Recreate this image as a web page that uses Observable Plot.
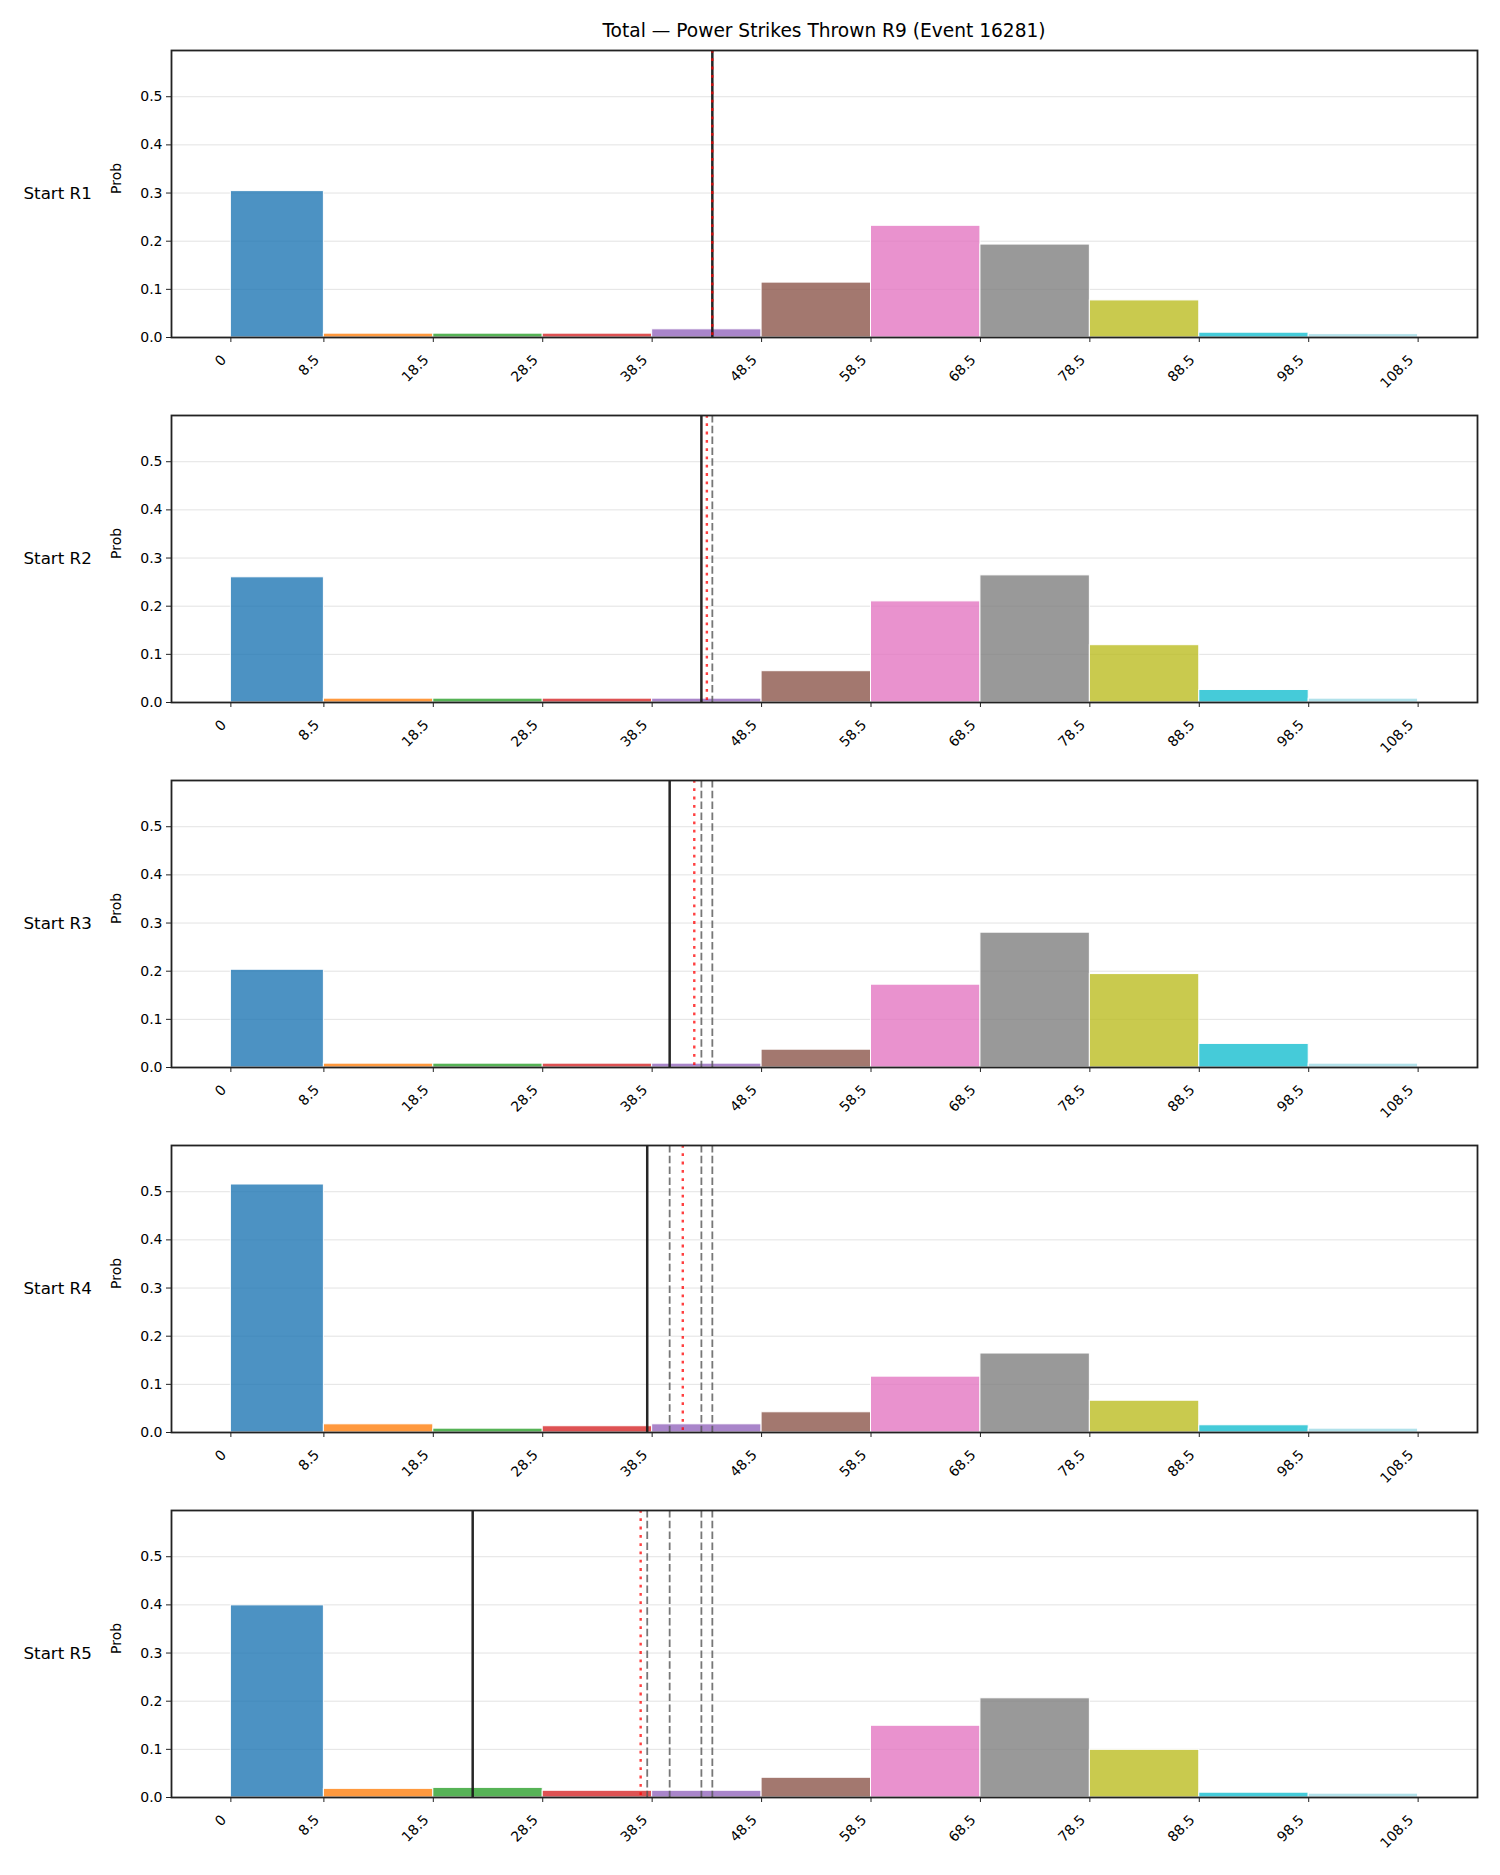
<!DOCTYPE html>
<html>
<head>
<meta charset="utf-8">
<script src="https://cdn.jsdelivr.net/npm/d3@7"></script>
<script src="https://cdn.jsdelivr.net/npm/@observablehq/plot@0.6"></script>
<style>
  body { margin: 0; background: #fff; }
  #chart { width: 1500px; font-family: "DejaVu Sans", sans-serif; }
  #title { height: 40px; box-sizing: border-box; padding: 21px 23px 0 171px; line-height: 20px;
           font-size: 18.6px; text-align: center; color: #000; white-space: nowrap; }
  #chart svg { display: block; }
</style>
</head>
<body>
<div id="chart"><div id="title">Total — Power Strikes Thrown R9 (Event 16281)</div></div>
<script>
// ---- data ----
const binEdges = [0, 8.5, 18.5, 28.5, 38.5, 48.5, 58.5, 68.5, 78.5, 88.5, 98.5, 108.5];
const xTickLabels = ["0", "8.5", "18.5", "28.5", "38.5", "48.5", "58.5", "68.5", "78.5", "88.5", "98.5", "108.5"];
const yTicks = [0, 0.1, 0.2, 0.3, 0.4, 0.5];
const roundLabels = ["Start R1", "Start R2", "Start R3", "Start R4", "Start R5"];

const probR1 = [0.304, 0.008, 0.008, 0.008, 0.017, 0.114, 0.232, 0.193, 0.077, 0.010, 0.007];
const probR2 = [0.260, 0.008, 0.008, 0.008, 0.008, 0.065, 0.210, 0.264, 0.119, 0.026, 0.008];
const probR3 = [0.203, 0.008, 0.008, 0.008, 0.008, 0.037, 0.172, 0.280, 0.194, 0.049, 0.008];
const probR4 = [0.515, 0.017, 0.008, 0.013, 0.017, 0.042, 0.116, 0.164, 0.066, 0.015, 0.008];
const probR5 = [0.399, 0.018, 0.020, 0.014, 0.014, 0.041, 0.149, 0.206, 0.099, 0.010, 0.008];
const probs = [probR1, probR2, probR3, probR4, probR5];

const lineValues = [44.0, 43.0, 40.1, 38.05, 22.1];     // black solid line per round
const centerValues = [44.0, 43.5, 42.35, 41.3, 37.45];  // red dotted line per round

// ---- styles ----
const palette = ["#1f77b4", "#ff7f0e", "#2ca02c", "#d62728", "#9467bd", "#8c564b",
                 "#e377c2", "#7f7f7f", "#bcbd22", "#17becf", "#9edae5"];
const tickLabelMap = new Map(binEdges.map((e, i) => [e, xTickLabels[i]]));
const binIndex = d3.range(binEdges.length - 1);

const chart = document.getElementById("chart");

roundLabels.forEach((label, r) => {
  const rows = binIndex.map(i => ({bin: i, x1: binEdges[i], x2: binEdges[i + 1], p: probs[r][i]}));
  const previous = lineValues.slice(0, r);
  const svg = Plot.plot({
    width: 1500,
    height: 365,
    marginLeft: 171,
    marginRight: 23,
    marginTop: 10,
    marginBottom: 68,
    x: {domain: [-5.425, 113.925]},
    y: {domain: [0, 0.596]},
    color: {domain: binIndex, range: palette},
    style: {fontFamily: "DejaVu Sans", fontSize: "14px", color: "#000", background: "#fff", overflow: "visible"},
    marks: [
      Plot.gridY(yTicks.slice(1), {stroke: "#e3e3e3", strokeOpacity: 1, strokeWidth: 1}),
      Plot.rect(rows, {x1: "x1", x2: "x2", y1: 0, y2: "p", fill: "bin", fillOpacity: 0.8, stroke: "#fff", strokeWidth: 1}),
      Plot.ruleX(previous, {stroke: "#555", strokeOpacity: 0.8, strokeWidth: 1.8, strokeDasharray: "7.5,3.3"}),
      Plot.ruleX([lineValues[r]], {stroke: "#1a1a1a", strokeOpacity: 0.95, strokeWidth: 2.5}),
      Plot.ruleX([centerValues[r]], {stroke: "red", strokeOpacity: 0.75, strokeWidth: 2.4, strokeDasharray: "2.8,5.5"}),
      Plot.axisY(yTicks, {tickFormat: d3.format(".1f"), tickSize: 5, tickPadding: 4, fontSize: 14, label: null, stroke: "#222"}),
      Plot.axisX(binEdges, {tickFormat: () => "", tickSize: 5, label: null, stroke: "#222"}),
      Plot.axisX(binEdges, {tickFormat: d => tickLabelMap.get(d), tickRotate: -45, tickSize: 0, tickPadding: 20, dx: -7, fontSize: 14, label: null}),
      Plot.frame({stroke: "#222", strokeWidth: 1.8}),
      Plot.text([label], {frameAnchor: "left", dx: -148, textAnchor: "start", fontSize: 16.7, fill: "#000"}),
      Plot.text(["Prob"], {frameAnchor: "left", dx: -55, rotate: -90, fontSize: 14, fill: "#000"})
    ]
  });
  chart.appendChild(svg);
});
</script>
</body>
</html>
